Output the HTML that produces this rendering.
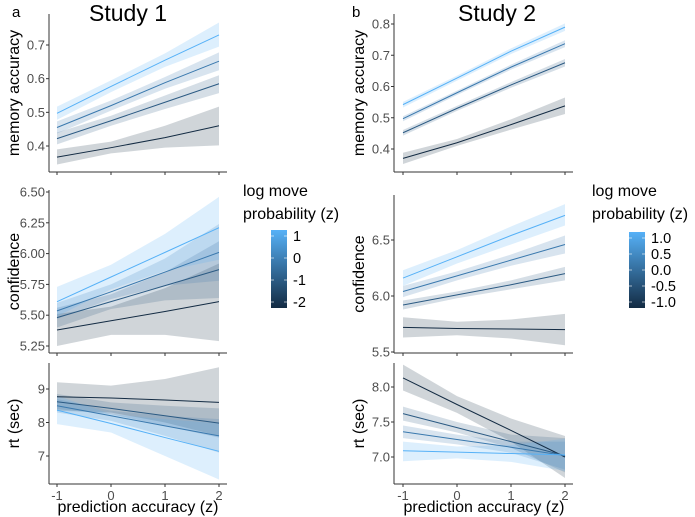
<!DOCTYPE html>
<html><head><meta charset="utf-8"><style>
html,body{margin:0;padding:0;background:#fff}
svg{display:block;font-family:"Liberation Sans",Arial,sans-serif}
.tick{font-size:13px;fill:#4d4d4d}
.ttl{font-size:16px;fill:#000}
</style></head><body>
<svg id="c" width="695" height="517" viewBox="0 0 695 517" xmlns="http://www.w3.org/2000/svg"></svg>
<script>
// x grid (prediction accuracy z)
const xs = [-1, 0, 1, 2];
const xTicks = [-1, 0, 1, 2];
// Study 1 memory accuracy: fit / lo / hi per series (dark -> light)
const s1MemFit = [[0.367,0.395,0.425,0.46],[0.422,0.475,0.53,0.585],[0.455,0.52,0.588,0.652],[0.497,0.577,0.655,0.73]];
const s1MemLo = [[0.345,0.378,0.395,0.402],[0.405,0.46,0.51,0.557],[0.437,0.505,0.57,0.625],[0.478,0.56,0.635,0.695]];
const s1MemHi = [[0.39,0.413,0.46,0.517],[0.44,0.49,0.55,0.61],[0.473,0.535,0.605,0.678],[0.517,0.595,0.675,0.767]];
const s1MemTicks = [0.4,0.5,0.6,0.7];
// Study 1 confidence
const s1ConfFit = [[5.38,5.455,5.53,5.61],[5.48,5.61,5.74,5.87],[5.535,5.69,5.85,6.01],[5.61,5.81,6.01,6.21]];
const s1ConfLo = [[5.25,5.34,5.34,5.29],[5.40,5.55,5.62,5.64],[5.47,5.63,5.74,5.78],[5.49,5.71,5.86,5.95]];
const s1ConfHi = [[5.51,5.57,5.72,5.92],[5.56,5.67,5.85,6.10],[5.60,5.75,5.96,6.24],[5.73,5.91,6.16,6.46]];
const s1ConfTicks = [5.25,5.5,5.75,6.0,6.25,6.5];
// Study 1 rt
const s1RtFit = [[8.77,8.73,8.67,8.60],[8.62,8.42,8.2,7.98],[8.5,8.2,7.9,7.6],[8.37,7.97,7.55,7.14]];
const s1RtLo = [[8.35,8.3,8.0,7.6],[8.4,8.25,7.9,7.55],[8.3,8.05,7.6,7.1],[7.95,7.7,7.0,6.3]];
const s1RtHi = [[9.2,9.1,9.3,9.65],[8.85,8.6,8.5,8.42],[8.7,8.35,8.2,8.1],[8.8,8.25,8.1,7.97]];
const s1RtTicks = [7,8,9];
// Study 2 memory accuracy
const s2MemFit = [[0.37,0.42,0.478,0.538],[0.452,0.53,0.605,0.676],[0.497,0.58,0.662,0.737],[0.542,0.627,0.713,0.79]];
const s2MemLo = [[0.352,0.41,0.462,0.512],[0.443,0.522,0.596,0.664],[0.489,0.573,0.654,0.726],[0.533,0.619,0.704,0.778]];
const s2MemHi = [[0.388,0.432,0.495,0.565],[0.461,0.538,0.614,0.688],[0.505,0.587,0.670,0.748],[0.551,0.635,0.722,0.802]];
const s2MemTicks = [0.4,0.5,0.6,0.7,0.8];
// Study 2 confidence
const s2ConfFit = [[5.72,5.71,5.705,5.70],[5.92,6.01,6.10,6.20],[6.04,6.18,6.32,6.46],[6.16,6.35,6.54,6.72]];
const s2ConfLo = [[5.63,5.65,5.62,5.56],[5.88,5.98,6.06,6.14],[5.99,6.14,6.27,6.38],[6.09,6.29,6.46,6.63]];
const s2ConfHi = [[5.81,5.77,5.79,5.84],[5.96,6.04,6.14,6.26],[6.09,6.22,6.37,6.54],[6.23,6.41,6.62,6.82]];
const s2ConfTicks = [5.5,6.0,6.5];
// Study 2 rt
const s2RtFit = [[8.13,7.75,7.38,7.0],[7.62,7.42,7.22,7.02],[7.36,7.25,7.14,7.02],[7.09,7.07,7.05,7.03]];
const s2RtLo = [[7.95,7.63,7.22,6.7],[7.52,7.35,7.13,6.78],[7.27,7.18,7.06,6.82],[6.94,6.98,6.93,6.80]];
const s2RtHi = [[8.32,7.87,7.55,7.3],[7.72,7.5,7.32,7.27],[7.45,7.32,7.22,7.22],[7.22,7.15,7.17,7.26]];
const s2RtTicks = [7.0,7.5,8.0];
const leg1Labels = ["1","0","-1","-2"];
const leg2Labels = ["1.0","0.5","0.0","-0.5","-1.0"];

const colors = ["#132B43","#2B5A83","#3A79AE","#56B1F7"];
const NS="http://www.w3.org/2000/svg";
const svg=document.getElementById('c');
function el(t,a,p){const e=document.createElementNS(NS,t);for(const k in a)e.setAttribute(k,a[k]);(p||svg).appendChild(e);return e;}

function panel(name,px,pTop,pBot,v0,p0,v1,p1,fit,lo,hi,ticks,fmt,title,showX){
  const g=el('g',{});
  
  
  const xS=v=>px.x0+(v-(-1))*(px.x3-px.x0)/3;
  const yS=v=>p0+(v-v0)*(p1-p0)/(v1-v0);
  for(let s=0;s<fit.length;s++){
    let d='';
    xs.forEach((x,i)=>{d+=(i?'L':'M')+xS(x)+','+yS(hi[s][i]);});
    for(let i=xs.length-1;i>=0;i--)d+='L'+xS(xs[i])+','+yS(lo[s][i]);
    const r=el('path',{d:d+'Z',fill:colors[s],'fill-opacity':0.2},g);
    
    
  }
  for(let s=0;s<fit.length;s++){
    const pts=xs.map((x,i)=>xS(x)+','+yS(fit[s][i])).join(' ');
    const l=el('polyline',{points:pts,fill:'none',stroke:colors[s],'stroke-width':1},g);
    
    
  }
  el('line',{x1:px.ax,y1:pTop,x2:px.ax,y2:pBot,stroke:'#333','stroke-width':1},g);
  el('line',{x1:px.ax,y1:pBot,x2:px.end,y2:pBot,stroke:'#333','stroke-width':1},g);
  ticks.forEach(t=>{
    const y=yS(t);
    el('line',{x1:px.ax-3,y1:y,x2:px.ax,y2:y,stroke:'#333'},g);
    const tx=el('text',{x:px.ax-4,y:y+4.5,'text-anchor':'end',class:'tick'},g);tx.textContent=fmt(t);
    
    
  });
  xTicks.forEach(t=>{
    const x=xS(t);
    el('line',{x1:x,y1:pBot,x2:x,y2:pBot+3,stroke:'#333'},g);
    if(showX){const tx=el('text',{x:x,y:pBot+16,'text-anchor':'middle',class:'tick'},g);tx.textContent=t;
      
      }
  });
  const cy=(pTop+pBot)/2;
  const yt=el('text',{x:px.tx,y:cy,'text-anchor':'middle',class:'ttl',transform:'rotate(-90 '+px.tx+' '+cy+')'},g);
  yt.textContent=title;
  
  
  if(showX){const xt=el('text',{x:(px.x0+px.x3)/2,y:512,'text-anchor':'middle',class:'ttl'},g);xt.textContent='prediction accuracy (z)';
    
    }
}
const L={ax:49,x0:57,x3:219,end:227,tx:19};
const R={ax:394,x0:403,x3:565,end:573,tx:364};
const f1=v=>v.toFixed(1), f2=v=>v.toFixed(2);
panel('study1-memory',L,14,172,0.4,146,0.7,45,s1MemFit,s1MemLo,s1MemHi,s1MemTicks,f1,'memory accuracy',false);
panel('study1-confidence',L,190,353,5.25,346,6.5,192,s1ConfFit,s1ConfLo,s1ConfHi,s1ConfTicks,f2,'confidence',false);
panel('study1-rt',L,363,484,7,456,9,389,s1RtFit,s1RtLo,s1RtHi,s1RtTicks,v=>String(v),'rt (sec)',true);
panel('study2-memory',R,14,172,0.4,149,0.8,24,s2MemFit,s2MemLo,s2MemHi,s2MemTicks,f1,'memory accuracy',false);
panel('study2-confidence',R,195,353,5.5,352,6.5,240,s2ConfFit,s2ConfLo,s2ConfHi,s2ConfTicks,f1,'confidence',false);
panel('study2-rt',R,363,484,7.0,457,8.0,387,s2RtFit,s2RtLo,s2RtHi,s2RtTicks,f1,'rt (sec)',true);

function txt(x,y,s,size,name,anchor){const t=el('text',{x:x,y:y,'font-size':size,fill:'#000','text-anchor':anchor||'start'});t.textContent=s;
  
  return t;}
txt(128,21,'Study 1',23,'study1-title','middle');
txt(497,21,'Study 2',23,'study2-title','middle');
txt(12,17,'a',15,'panel-a-label');
txt(352,17,'b',15,'panel-b-label');

const defs=el('defs',{});
const gr=el('linearGradient',{id:'cg',x1:0,y1:1,x2:0,y2:0},defs);
el('stop',{offset:0,'stop-color':'#132B43'},gr);el('stop',{offset:1,'stop-color':'#56B1F7'},gr);
function legend(x,tx,top,bot,labels,name){
  const g=el('g',{});
  
  
  const a=el('text',{x:tx,y:196,'font-size':16},g);a.textContent='log move';
  const b=el('text',{x:tx,y:219,'font-size':16},g);b.textContent='probability (z)';
  el('rect',{x:x,y:top,width:16,height:bot-top,fill:'url(#cg)'},g);
  const n=labels.length, pad=6, step=(bot-top-2*pad)/(n-1);
  labels.forEach((l,i)=>{
    const y=top+pad+i*step;
    el('line',{x1:x,y1:y,x2:x+3,y2:y,stroke:'#fff','stroke-opacity':0.6},g);
    el('line',{x1:x+13,y1:y,x2:x+16,y2:y,stroke:'#fff','stroke-opacity':0.6},g);
    const t=el('text',{x:x+22,y:y+5,'font-size':14.5},g);t.textContent=l;
  });
}
legend(271,243,230,308,leg1Labels,'legend-study1');
legend(629,592,232,308,leg2Labels,'legend-study2');
</script>
</body></html>
